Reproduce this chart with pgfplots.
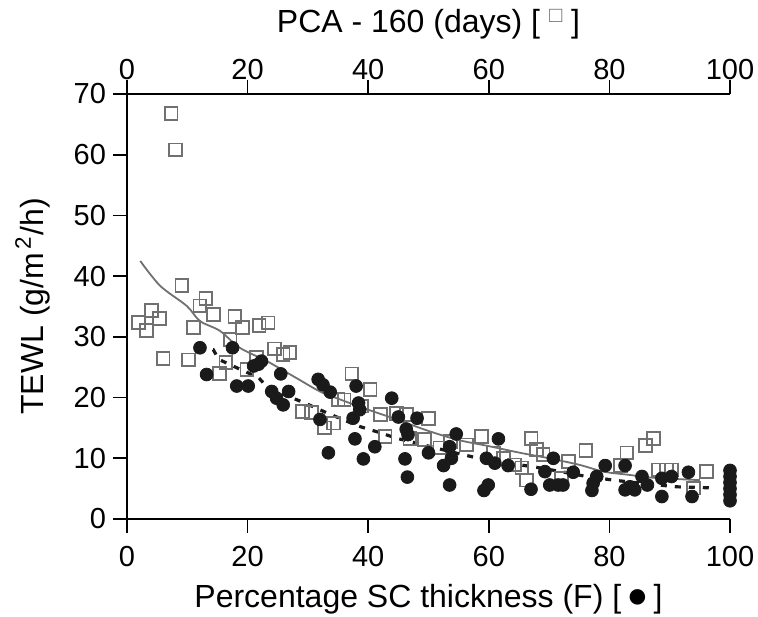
\documentclass[border=0pt]{standalone}
\usepackage{pgfplots}
\pgfplotsset{compat=1.18}
\usepackage{fontspec}
\setmainfont{Liberation Sans}

\definecolor{sqgray}{HTML}{707070}
\definecolor{dotblack}{HTML}{1A1A1A}

\pgfplotsset{
  common/.style={
    width=301.5pt, height=212.5pt, scale only axis,
    xmin=0, xmax=100, ymin=0, ymax=70,
    xtick={0,20,...,100},
    tick align=outside,
    major tick length=7pt,
    axis line style={-, line width=1pt, black},
    tick style={line width=0.8pt, black},
    tick label style={font=\fontsize{14.5}{16}\selectfont},
    label style={font=\fontsize{16}{18}\selectfont},
    /pgf/number format/assume math mode=true,
  }
}

\begin{document}
\begin{tikzpicture}
  % bottom / left axis: F (%) and all data
  \begin{axis}[common, name=ax,
      axis x line*=bottom, axis y line*=left,
      ytick={0,10,...,70},
      clip=false,
      xticklabel style={yshift=-3pt},
      xlabel={Percentage SC thickness (F) [\,{\fontsize{18}{16}\selectfont ●}\,]},
      ylabel={TEWL (g/m\textsuperscript{\,2}/h)},
      xlabel style={yshift=-2pt},
      ylabel style={yshift=5pt},
    ]
    % PCA - 160 days (squares)
    \addplot[only marks, mark=square, mark size=3.2pt, sqgray,
        mark options={line width=0.9pt}] coordinates {
      (1.9,32.4)(3.2,31)(4.1,34.3)(5.4,33)(6,26.4)(7.3,66.8)(8,60.8)
      (9.1,38.5)(10.2,26.2)(11,31.5)(12.1,35.1)(13.1,36.3)(14.3,33.7)
      (15.3,24)(16.4,25.8)(17.1,29.6)(17.9,33.4)(19.2,31.5)(19.9,24.6)
      (21.5,26.6)(21.9,31.9)(23.4,32.3)(24.5,28)(25.9,27.1)(27,27.4)
      (29.1,17.7)(30.6,17.5)(32.8,15)(34.2,15.8)(35,19.7)(36,19.6)
      (37.3,23.9)(38.9,18.6)(40.3,21.3)(42,17.2)(42.8,13.6)(44.7,17.4)
      (46.4,17.2)(46.9,13.3)(49.3,13.1)(50,16.6)(51.9,11.7)(53.6,12.8)
      (56.3,12.2)(58.8,13.6)(60.8,10.9)(62.4,10)(64.3,8.9)(65.5,8.4)
      (66.3,6.4)(67,13.3)(67.9,11.4)(69,10.6)(72.1,6.7)(73.2,9.5)
      (76.1,11.3)(81.8,8.8)(82.9,10.9)(86,12.1)(87.3,13.3)(88.1,8.1)
      (89.5,8.1)(90.3,8.1)(93.9,5.1)(96.1,7.8)
    };
    % fit line for squares
    \addplot[sqgray, line width=0.9pt, smooth] coordinates {
      (2.2,42.5)(5.5,38.4)(9.9,35.1)(12.1,32.6)(15.4,31)(18.7,28.2)
      (23.2,26)(27.6,23.5)(32,21)(35.3,19.7)(40,18)(45,16.3)(50,14.5)
      (55,13)(60,12)(65.2,10.9)(70,10)(75.1,8.9)(79,7.8)(83,7.3)
      (87.2,6.8)(95,6.4)
    };
    % F (circles)
    \addplot[only marks, mark=*, mark size=3.2pt, dotblack] coordinates {
      (12.1,28.2)(13.2,23.8)(17.5,28.2)(18.2,21.9)(20.1,21.9)(21,25.2)
      (22.3,26)(21.8,25.5)(24,21)(24.8,19.9)(25.5,23.9)(25.9,18.8)
      (26.8,21)(31.7,23)(32,16.4)(32.5,22.1)(33.4,10.9)(33.7,20.9)
      (37.5,16.6)(37.8,13.2)(38,21.9)(38.4,19.1)(38.6,18)(39.2,9.9)
      (41.1,11.9)(43.9,19.9)(45,16.8)(46.1,9.9)(46.3,14.8)(46.5,6.9)
      (46.6,13.9)(48.1,16.6)(50,10.9)(52.5,8.8)(53.5,11.9)(53.5,5.6)
      (53.8,10)(54.6,14)(59.2,4.7)(59.6,10)(59.9,5.6)(61,9.2)(61.6,13.2)
      (63.2,8.8)(67,4.9)(69.3,7.8)(70.1,5.6)(70.7,10)(71.5,5.6)(72.3,5.6)
      (74,7.7)(77.1,4.7)(77.3,5.9)(77.9,7)(79.3,8.8)(82.6,8.8)(82.6,4.8)
      (83.4,5.3)(84.2,4.8)(85.4,7)(86.3,5.6)(88.7,6.7)(88.7,3.7)(90.3,7)
      (93.1,7.7)(93.7,3.7)(100,8)(100,7)(100,6)(100,5)(100,4)(100,3)
    };
    % fit line for circles
    \addplot[dotblack, line width=1.6pt, dash pattern=on 3pt off 4pt] coordinates {
      (12,28.5)(14.3,27.9)(15.2,26.3)(18,25)(21.8,23.3)(22.9,22.1)(26,20.5)
      (29.5,19.1)(33.1,17.5)(38.4,15.3)(40,14.8)(42,14.2)(44.7,13.3)
      (50,12)(54,11)(58.3,10)(63,9.2)(67.4,8.6)(72,7.8)(76.2,7)(80.7,6.4)
      (86,5.8)(91.2,5.3)(97.8,5.1)
    };
  \end{axis}
  % top axis: PCA - 160 (days)
  \begin{axis}[common,
      axis x line*=top, axis y line=none,
      xticklabel style={yshift=-3.5pt},
      xlabel={PCA - 160 (days) [\;{\color{sqgray}\raisebox{5pt}{\fontsize{11}{11}\selectfont □}}\;]},
      xlabel style={yshift=3.5pt},
    ]
  \end{axis}
  \pgfresetboundingbox
  \path[use as bounding box] ([xshift=-63.5pt,yshift=-49pt]ax.south west)
    rectangle ([xshift=14pt,yshift=47pt]ax.north east);
\end{tikzpicture}
\end{document}
